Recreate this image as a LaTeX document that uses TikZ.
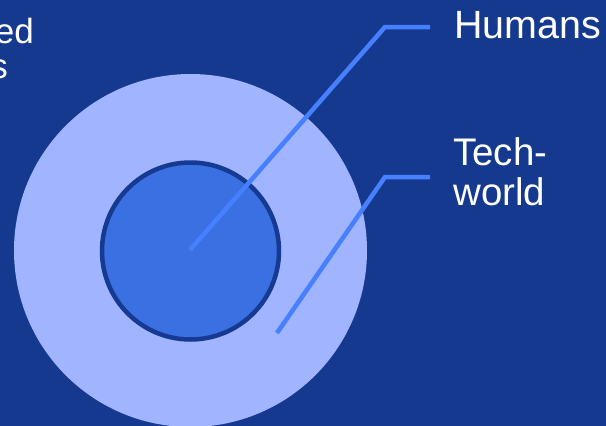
\documentclass[tikz,border=0pt]{standalone}
\usepackage{fontspec}
\setmainfont{Liberation Sans}
\definecolor{bgblue}{RGB}{21,57,143}
\definecolor{outerc}{RGB}{160,180,255}
\definecolor{innerc}{RGB}{58,112,226}
\definecolor{innerb}{RGB}{22,58,145}
\definecolor{leader}{RGB}{70,128,255}
\begin{document}
\begin{tikzpicture}[x=1pt,y=-1pt,
  lbl/.style={text=white,inner sep=0pt,font=\fontsize{38.5}{40}\selectfont},
  leaderline/.style={draw=leader,line width=4.5pt,line join=miter}]
\useasboundingbox (0,0) rectangle (606,426);
\clip (0,0) rectangle (606,426);
\fill[bgblue] (0,0) rectangle (606,426);
\fill[outerc] (190.5,250.5) circle[radius=176.5];
\node[circle,fill=innerc,draw=innerb,line width=4.5pt,minimum size=177pt,inner sep=0pt] (inner) at (190.5,251) {};
\coordinate (hstart) at (190,250);
\coordinate (hbend) at (385,27);
\coordinate (hend) at (430,27);
\coordinate (tstart) at (277,333);
\coordinate (tbend) at (385,177);
\coordinate (tend) at (430,177);
\draw[leaderline] (hstart) -- (hbend) -- (hend);
\draw[leaderline] (tstart) -- (tbend) -- (tend);
\node[lbl,anchor=base west,font=\fontsize{39.4}{40}\selectfont] (humans) at (454,38) {Humans};
\node[lbl,anchor=base west,align=left] (tech) at (453,205) {Tech-\\world};
\node[lbl,anchor=base east,font=\fontsize{35}{36}\selectfont] (ed) at (34,43) {ed};
\node[lbl,anchor=base east,font=\fontsize{35}{36}\selectfont] (s) at (8,78) {s};
\end{tikzpicture}
\end{document}
